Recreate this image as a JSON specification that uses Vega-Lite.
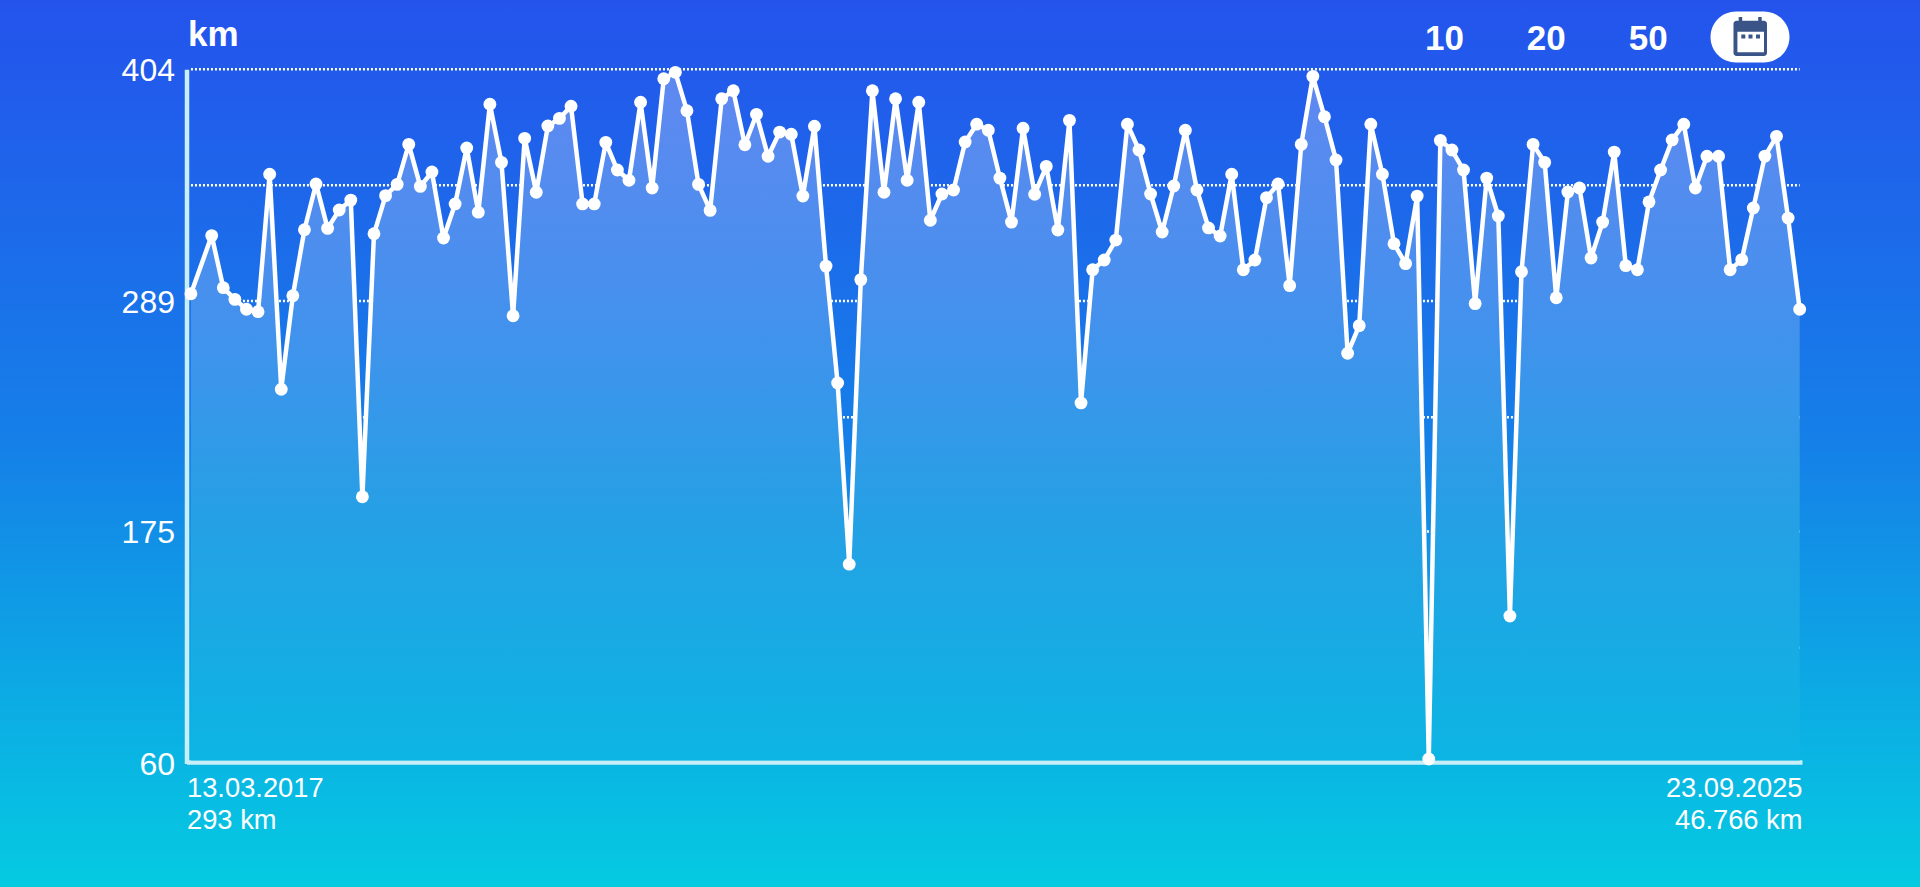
{"$schema":"https://vega.github.io/schema/vega-lite/v6.json","width":1920,"height":887,"padding":0,"autosize":"none","background":"#1580E8","view":{"stroke":null,"fill":{"gradient":"linear","x1":0,"y1":0,"x2":0,"y2":1,"stops":[{"offset":0,"color":"#2453EC"},{"offset":0.5,"color":"#1580E8"},{"offset":1,"color":"#05CBE1"}]}},"config":{"font":"Liberation Sans"},"resolve":{"scale":{"x":"independent"}},"datasets":{"gridlines":[{"km":404,"from":0.21,"to":139},{"km":346.5,"from":0.21,"to":139},{"km":289.2,"from":0.21,"to":139},{"km":231.6,"from":0.21,"to":139},{"km":175,"from":0.21,"to":139},{"km":117.4,"from":0.21,"to":139}],"series":[{"i":0.21,"km":292.8},{"i":2,"km":321.6},{"i":3,"km":295.8},{"i":4,"km":290.0},{"i":5,"km":285.1},{"i":6,"km":283.9},{"i":7,"km":352.0},{"i":8,"km":245.5},{"i":9,"km":291.8},{"i":10,"km":324.5},{"i":11,"km":347.2},{"i":12,"km":325.2},{"i":13,"km":334.3},{"i":14,"km":339.2},{"i":15,"km":192.2},{"i":16,"km":322.5},{"i":17,"km":341.4},{"i":18,"km":347.0},{"i":19,"km":366.8},{"i":20,"km":346.0},{"i":21,"km":353.1},{"i":22,"km":320.4},{"i":23,"km":337.3},{"i":24,"km":365.0},{"i":25,"km":333.2},{"i":26,"km":386.7},{"i":27,"km":357.9},{"i":28,"km":281.9},{"i":29,"km":369.8},{"i":30,"km":343.1},{"i":31,"km":375.9},{"i":32,"km":379.7},{"i":33,"km":385.7},{"i":34,"km":337.3},{"i":35,"km":337.3},{"i":36,"km":367.8},{"i":37,"km":354.1},{"i":38,"km":349.0},{"i":39,"km":387.7},{"i":40,"km":345.2},{"i":41,"km":399.3},{"i":42,"km":402.5},{"i":43,"km":383.5},{"i":44,"km":347.0},{"i":45,"km":334.1},{"i":46,"km":389.4},{"i":47,"km":393.4},{"i":48,"km":366.6},{"i":49,"km":381.7},{"i":50,"km":360.9},{"i":51,"km":372.9},{"i":52,"km":371.8},{"i":53,"km":341.2},{"i":54,"km":375.8},{"i":55,"km":306.5},{"i":56,"km":248.6},{"i":57,"km":158.8},{"i":58,"km":299.8},{"i":59,"km":393.4},{"i":60,"km":343.1},{"i":61,"km":389.4},{"i":62,"km":349.0},{"i":63,"km":387.7},{"i":64,"km":329.2},{"i":65,"km":342.2},{"i":66,"km":344.2},{"i":67,"km":368.0},{"i":68,"km":376.8},{"i":69,"km":373.8},{"i":70,"km":350.1},{"i":71,"km":328.3},{"i":72,"km":374.8},{"i":73,"km":342.1},{"i":74,"km":355.9},{"i":75,"km":324.4},{"i":76,"km":378.7},{"i":77,"km":238.7},{"i":78,"km":304.7},{"i":79,"km":309.5},{"i":80,"km":319.4},{"i":81,"km":376.8},{"i":82,"km":364.0},{"i":83,"km":342.2},{"i":84,"km":323.4},{"i":85,"km":346.2},{"i":86,"km":373.8},{"i":87,"km":344.2},{"i":88,"km":325.4},{"i":89,"km":321.4},{"i":90,"km":352.0},{"i":91,"km":304.7},{"i":92,"km":309.5},{"i":93,"km":340.4},{"i":94,"km":347.2},{"i":95,"km":296.8},{"i":96,"km":366.8},{"i":97,"km":400.5},{"i":98,"km":380.5},{"i":99,"km":359.1},{"i":100,"km":263.3},{"i":101,"km":277.0},{"i":102,"km":376.8},{"i":103,"km":352.0},{"i":104,"km":317.6},{"i":105,"km":307.7},{"i":106,"km":341.2},{"i":107,"km":62.3},{"i":108,"km":368.8},{"i":109,"km":364.0},{"i":110,"km":354.1},{"i":111,"km":287.9},{"i":112,"km":350.1},{"i":113,"km":331.3},{"i":114,"km":133.1},{"i":115,"km":303.7},{"i":116,"km":366.8},{"i":117,"km":357.9},{"i":118,"km":290.8},{"i":119,"km":343.2},{"i":120,"km":345.2},{"i":121,"km":310.5},{"i":122,"km":328.3},{"i":123,"km":363.0},{"i":124,"km":306.7},{"i":125,"km":304.7},{"i":126,"km":338.3},{"i":127,"km":354.1},{"i":128,"km":369.0},{"i":129,"km":376.8},{"i":130,"km":345.2},{"i":131,"km":360.9},{"i":132,"km":360.9},{"i":133,"km":304.7},{"i":134,"km":309.7},{"i":135,"km":335.3},{"i":136,"km":361.0},{"i":137,"km":370.8},{"i":138,"km":330.3},{"i":139,"km":285.1}]},"layer":[{"data":{"name":"series"},"encoding":{"x":{"field":"i","type":"quantitative","scale":{"domain":[-0.1745,139.2],"range":[186.5,1802],"nice":false,"zero":false},"axis":{"orient":"bottom","offset":-125,"values":[-0.1745,139.2],"grid":false,"ticks":false,"title":null,"domainColor":"#C8EEF8","domainWidth":4.5,"labelFont":"Liberation Sans","labelFontSize":27.3,"labelColor":"#FFFFFF","labelPadding":12,"labelLineHeight":32,"labelFlush":true,"labelExpr":"datum.value < 50 ? ['13.03.2017','293 km'] : ['23.09.2025','46.766 km']"}},"y":{"field":"km","type":"quantitative","scale":{"domain":[60,404],"range":[763.6,69.3],"nice":false,"zero":false},"axis":{"orient":"left","offset":-186.5,"values":[404,289,175,60],"grid":false,"ticks":false,"domainColor":"#C8EEF8","domainWidth":4.5,"labelFont":"Liberation Sans","labelFontSize":32,"labelColor":"#FFFFFF","labelPadding":12,"labelOffset":1,"title":"km","titleFont":"Liberation Sans","titleFontSize":35,"titleFontWeight":"bold","titleColor":"#FFFFFF","titleAngle":0,"titleAlign":"left","titleBaseline":"alphabetic","titleX":1,"titleY":45}}},"layer":[{"data":{"name":"gridlines"},"mark":{"type":"rule","stroke":"#FFFFFF","strokeOpacity":1,"strokeWidth":2.5,"strokeDash":[2,2]},"encoding":{"x":{"field":"from","type":"quantitative"},"x2":{"field":"to"},"y":{"field":"km","type":"quantitative"}}},{"mark":{"type":"area","fill":{"gradient":"linear","x1":0,"y1":0,"x2":0,"y2":1,"stops":[{"offset":0,"color":"#6088F0"},{"offset":0.33,"color":"#4690EE"},{"offset":0.65,"color":"#25A0E5"},{"offset":1,"color":"#0CB5E3"}]}},"encoding":{"y2":{"datum":61.5}}},{"mark":{"type":"line","stroke":"#FFFFFF","strokeWidth":4.5,"strokeJoin":"round"}},{"mark":{"type":"point","filled":true,"fill":"#FFFFFF","opacity":1,"size":165}}]},{"data":{"values":[{"button":"10"},{"button":"20"},{"button":"50"}]},"mark":{"type":"text","font":"Liberation Sans","fontSize":35,"fontWeight":"bold","color":"#FFFFFF","align":"center","baseline":"middle","dy":2},"encoding":{"text":{"field":"button","type":"nominal"},"x":{"field":"button","type":"nominal","scale":{"type":"point","domain":["10","20","50","calendar"],"range":[1444.4,1750],"padding":0},"axis":null},"y":{"datum":420,"type":"quantitative"}}},{"data":{"values":[{"button":"calendar"}]},"mark":{"type":"point","filled":true,"fill":"#FFFFFF","opacity":1,"size":4,"shape":"M-14,-25.5H14A25.5,25.5 0 0 1 39.5,0A25.5,25.5 0 0 1 14,25.5H-14A25.5,25.5 0 0 1 -39.5,0A25.5,25.5 0 0 1 -14,-25.5Z"},"encoding":{"x":{"field":"button","type":"nominal","scale":{"type":"point","domain":["10","20","50","calendar"],"range":[1444.4,1750],"padding":0},"axis":null},"y":{"datum":420,"type":"quantitative"}}},{"data":{"values":[{"button":"calendar"}]},"mark":{"type":"point","filled":true,"fill":"#3B5488","opacity":1,"size":4,"shape":"M-11.3,-20H-7.8V-16.3H8.2V-20H11.7V-16.3H14A3,3 0 0 1 17,-13.3V16A3,3 0 0 1 14,19H-13.5A3,3 0 0 1 -16.5,16V-13.3A3,3 0 0 1 -13.5,-16.3H-11.3ZM-12.6,-5.3V15.3H14V-5.3ZM-8.7,-2.5H-4.7V1.5H-8.7ZM-1.5,-2.5H2.5V1.5H-1.5ZM6,-2.5H10V1.5H6Z"},"encoding":{"x":{"field":"button","type":"nominal","scale":{"type":"point","domain":["10","20","50","calendar"],"range":[1444.4,1750],"padding":0},"axis":null},"y":{"datum":420,"type":"quantitative"}}}]}
